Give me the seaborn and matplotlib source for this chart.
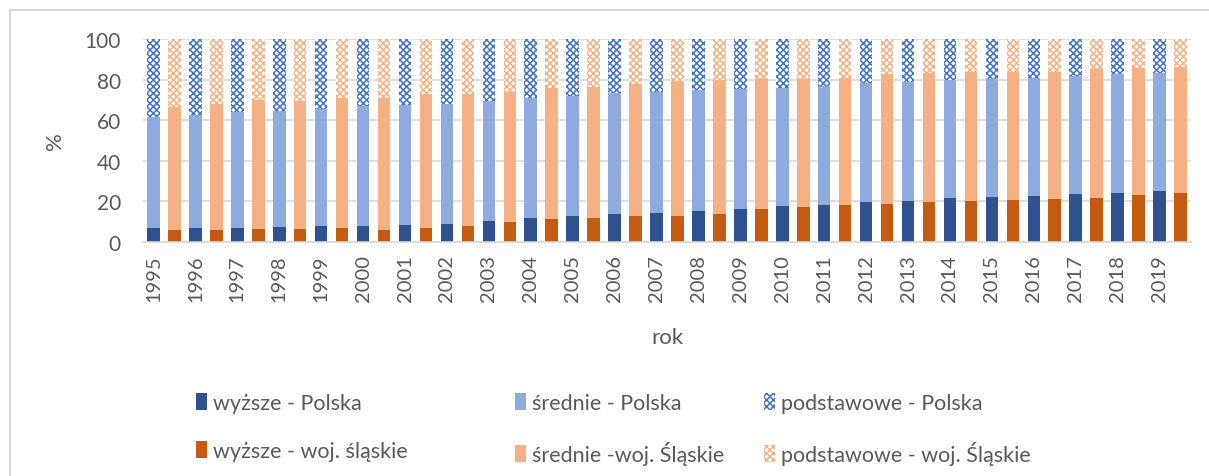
import numpy as np
import pandas as pd
import matplotlib
matplotlib.use("Agg")
import matplotlib.pyplot as plt
from matplotlib.patches import Patch
from matplotlib.lines import Line2D
import seaborn as sns

years = list(range(1995, 2020))

pl_wyzsze = [6.9, 7.0, 7.0, 7.5, 8.0, 8.0, 8.5, 9.0, 10.5, 11.6, 12.6, 13.6, 14.1,
             15.1, 16.2, 17.5, 18.2, 19.5, 20.3, 21.5, 22.0, 22.5, 23.4, 24.1, 24.9]
pl_srednie = [54.6, 55.5, 56.8, 57.1, 57.6, 59.0, 59.0, 59.2, 59.2, 59.5, 59.5, 59.7, 59.8,
              59.7, 59.4, 58.6, 58.8, 58.7, 58.4, 58.2, 58.2, 58.5, 58.2, 58.5, 58.4]
pl_podst = [38.5, 37.5, 36.2, 35.4, 34.4, 33.0, 32.5, 31.8, 30.3, 28.9, 27.9, 26.7, 26.1,
            25.2, 24.4, 23.9, 23.0, 21.8, 21.3, 20.3, 19.8, 19.0, 18.4, 17.4, 16.7]

sl_wyzsze = [5.7, 6.1, 6.2, 6.6, 7.0, 6.1, 7.0, 8.0, 9.8, 11.1, 12.0, 12.6, 12.6,
             13.6, 16.1, 17.0, 18.0, 18.5, 19.5, 20.0, 20.5, 21.0, 21.6, 23.0, 23.9]
sl_srednie = [60.7, 62.1, 63.8, 62.9, 63.7, 65.0, 66.1, 65.1, 64.1, 65.0, 64.6, 65.1, 66.6,
              66.2, 64.4, 63.5, 63.0, 64.1, 63.6, 63.9, 63.4, 62.9, 63.5, 62.7, 62.5]
sl_podst = [33.6, 31.8, 30.0, 30.5, 29.3, 28.9, 26.9, 26.9, 26.1, 23.9, 23.4, 22.3, 20.8,
            20.2, 19.5, 19.5, 19.0, 17.4, 16.9, 16.1, 16.1, 16.1, 14.9, 14.3, 13.6]

labels = ["wyższe - Polska", "średnie - Polska", "podstawowe - Polska",
          "wyższe - woj. śląskie", "średnie -woj. Śląskie", "podstawowe - woj. Śląskie"]

# colours
C_PL_W, C_PL_S, C_PL_P = "#2F528F", "#8FAADC", "#4472C4"
C_SL_W, C_SL_S, C_SL_P = "#C55A11", "#F4B183", "#F4B183"
TXT = "#595959"
HATCH = "xxxxx"

rows = []
for i, y in enumerate(years):
    rows.append(dict(pos=f"{y}P", region="P", w=pl_wyzsze[i], s=pl_srednie[i], p=pl_podst[i]))
    rows.append(dict(pos=f"{y}S", region="S", w=sl_wyzsze[i], s=sl_srednie[i], p=sl_podst[i]))
df = pd.DataFrame(rows)
df["c1"] = df["w"]
df["c2"] = df["w"] + df["s"]
df["c3"] = df["w"] + df["s"] + df["p"]
order = list(df["pos"])

sns.set_theme(style="white")
plt.rcParams["font.family"] = ["Lato", "DejaVu Sans"]
plt.rcParams["hatch.linewidth"] = 1.1

fig = plt.figure(figsize=(12.09, 4.77), dpi=100)
ax = fig.add_axes([143 / 1209, 1 - 243 / 477, (1191 - 143) / 1209, (243 - 40) / 477])

W = 0.6
specs = {
    "P": (C_PL_W, C_PL_S, C_PL_P),
    "S": (C_SL_W, C_SL_S, C_SL_P),
}
for reg, (cw, cs, cp) in specs.items():
    sub = df[df["region"] == reg]
    sns.barplot(data=sub, x="pos", y="c3", order=order, color="white", edgecolor=cp,
                hatch=HATCH, linewidth=0, width=W, ax=ax, zorder=2, saturation=1)
for reg, (cw, cs, cp) in specs.items():
    sub = df[df["region"] == reg]
    sns.barplot(data=sub, x="pos", y="c2", order=order, color=cs, linewidth=0,
                width=W, ax=ax, zorder=3, saturation=1)
for reg, (cw, cs, cp) in specs.items():
    sub = df[df["region"] == reg]
    sns.barplot(data=sub, x="pos", y="c1", order=order, color=cw, linewidth=0,
                width=W, ax=ax, zorder=4, saturation=1)

ax.set_xlim(-0.5, len(order) - 0.5)
ax.set_ylim(0, 100)
ax.set_yticks([0, 20, 40, 60, 80, 100])
ax.yaxis.grid(True, color="#D9D9D9", linewidth=1.2, zorder=0)
ax.set_axisbelow(True)
for s in ["left", "right", "top"]:
    ax.spines[s].set_visible(False)
ax.spines["bottom"].set_color("#D9D9D9")
ax.spines["bottom"].set_linewidth(1.2)
ax.spines["bottom"].set_zorder(5)

ax.set_xticks(range(0, len(order), 2))
ax.set_xticklabels([str(y) for y in years], rotation=90, fontsize=14.5, color=TXT)
ax.tick_params(axis="x", length=0, pad=9)
ax.tick_params(axis="y", length=0, pad=16, labelsize=15, labelcolor=TXT)
ax.set_xlabel("rok", fontsize=16, color=TXT, labelpad=18)
ax.set_ylabel("%", fontsize=16, color=TXT, labelpad=14)

def hp(fc, ec=None, hatch=None):
    if hatch:
        return Patch(facecolor="white", edgecolor=ec, hatch=hatch, linewidth=0)
    return Patch(facecolor=fc, edgecolor=fc, linewidth=0)

handles = [hp(C_PL_W), hp(C_PL_S), hp(None, C_PL_P, HATCH),
           hp(C_SL_W), hp(C_SL_S), hp(None, C_SL_P, HATCH)]
col_x = [196, 515, 764]
for c in range(3):
    lg = fig.legend([handles[c], handles[c + 3]], [labels[c], labels[c + 3]],
                    loc="upper left", bbox_to_anchor=(col_x[c] / 1209, 1 - 394 / 477),
                    frameon=False, fontsize=15.5, handlelength=0.5, handleheight=0.8,
                    handletextpad=0.3, labelspacing=1.3, borderpad=0, borderaxespad=0)
    for t in lg.get_texts():
        t.set_color(TXT)

# chart-area border (top and left visible)
fig.add_artist(Line2D([10 / 1209, 1], [1 - 11 / 477, 1 - 11 / 477], color="#D9D9D9", lw=1.5,
                      transform=fig.transFigure))
fig.add_artist(Line2D([10 / 1209, 10 / 1209], [0, 1 - 11 / 477], color="#D9D9D9", lw=1.5,
                      transform=fig.transFigure))

fig.savefig("out.png", dpi=100)
